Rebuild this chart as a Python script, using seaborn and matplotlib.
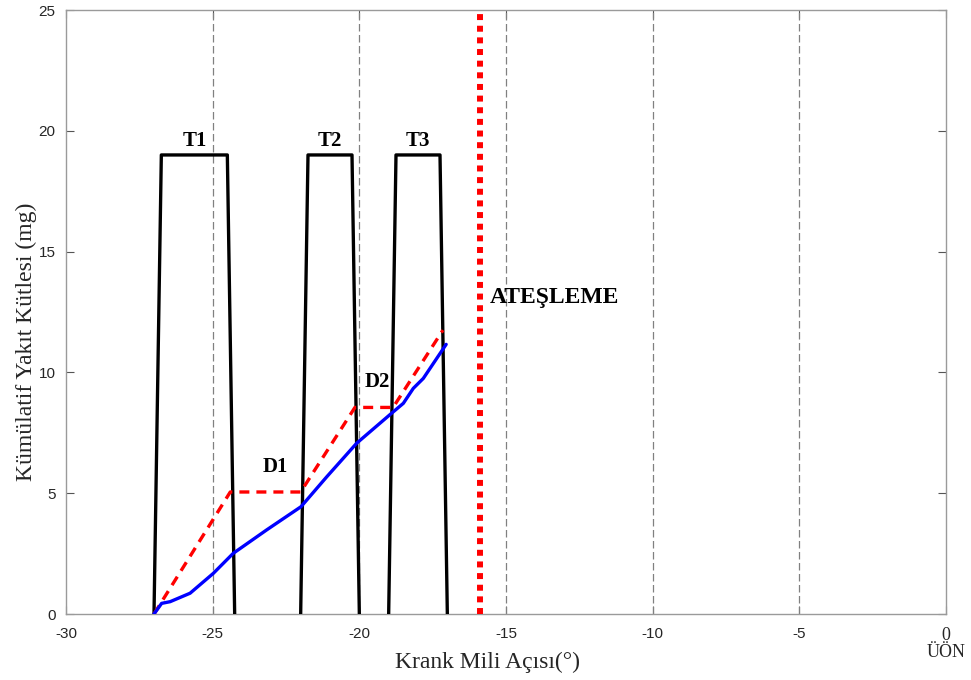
import numpy as np
import pandas as pd
import matplotlib
matplotlib.use("Agg")
import matplotlib.pyplot as plt
import seaborn as sns

# Injection pulse profiles (crank angle, pulse height)
t1_angle = [-27.0, -26.75, -24.5, -24.25]
t2_angle = [-22.0, -21.75, -20.25, -20.0]
t3_angle = [-19.0, -18.75, -17.25, -17.0]
pulse_level = [0, 19, 19, 0]
pulse_names = ["T1", "T2", "T3"]

# Cumulative fuel mass, ideal (dashed) profile
ideal_angle = [-27.0, -24.4, -22.0, -20.15, -18.85, -17.15]
ideal_mass = [0.0, 5.05, 5.05, 8.55, 8.55, 11.75]

# Cumulative fuel mass, actual injected
actual_angle = [-27.0, -26.74, -26.45, -25.77, -24.98, -24.30, -23.16, -21.99,
                -21.11, -20.09, -18.90, -18.50, -18.16, -17.82, -17.04]
actual_mass = [0.0, 0.44, 0.51, 0.86, 1.68, 2.51, 3.48, 4.44,
               5.68, 7.07, 8.31, 8.72, 9.34, 9.75, 11.16]

ignition_angle = -15.9
grid_angles = [-25, -20, -15, -10, -5]
x_ticks = [-30, -25, -20, -15, -10, -5, 0]
x_tick_labels = ["-30", "-25", "-20", "-15", "-10", "-5", "0\nÜÖN"]
y_ticks = [0, 5, 10, 15, 20, 25]

sns.set_theme(style="white")
plt.rcParams["font.family"] = ["Liberation Sans", "DejaVu Sans"]
serif = ["Liberation Serif", "DejaVu Serif"]

fig = plt.figure(figsize=(9.71, 6.8), dpi=100)
ax = fig.add_axes([66 / 971, 1 - 614 / 680, 880 / 971, 604 / 680])

for g in grid_angles:
    ax.axvline(g, color="#808080", lw=0.9, ls=(0, (6, 2.8)), zorder=1)

for angles in (t1_angle, t2_angle, t3_angle):
    df = pd.DataFrame({"angle": angles, "level": pulse_level})
    sns.lineplot(data=df, x="angle", y="level", sort=False, color="black",
                 lw=2.4, ax=ax, zorder=3)

df_ideal = pd.DataFrame({"angle": ideal_angle, "mass": ideal_mass})
sns.lineplot(data=df_ideal, x="angle", y="mass", sort=False, color="#ff0000",
             lw=2.4, ls=(0, (3, 2.1)), ax=ax, zorder=4)

df_actual = pd.DataFrame({"angle": actual_angle, "mass": actual_mass})
sns.lineplot(data=df_actual, x="angle", y="mass", sort=False, color="#0000ff",
             lw=2.4, ax=ax, zorder=5)

ax.axvline(ignition_angle, color="#ff0000", lw=4.3, ls=(0, (1, 0.95)), zorder=4)

serif_bold = dict(family=serif, weight="bold", fontsize=15, color="black")
for name, angles in zip(pulse_names, (t1_angle, t2_angle, t3_angle)):
    ax.text((angles[1] + angles[2]) / 2, 19.15, name, ha="center", va="bottom",
            **serif_bold)
ax.text(-22.85, 6.1, "D1", ha="center", va="center", **serif_bold)
ax.text(-19.4, 9.6, "D2", ha="center", va="center", **serif_bold)
ax.text(-15.55, 13.1, "ATEŞLEME", ha="left", va="center",
        **{**serif_bold, "fontsize": 17})

ax.set_xlim(-30, 0)
ax.set_ylim(0, 25)
ax.set_xticks(x_ticks)
ax.set_yticks(y_ticks)
ax.set_xticklabels(x_tick_labels)
ax.set_yticklabels([str(v) for v in y_ticks])

ax.tick_params(direction="in", length=6, width=0.8, color="#555555",
               labelcolor="#262626", labelsize=11, top=True, right=True,
               bottom=True, left=True)
ax.tick_params(axis="x", pad=9.5)
ax.tick_params(axis="y", pad=7.5)

# the TDC tick is labelled in serif, with its abbreviation on a second line
last = ax.get_xticklabels()[-1]
last.set_fontfamily(serif)
last.set_fontsize(13)
last.set_linespacing(0.95)

for s in ax.spines.values():
    s.set_visible(True)
    s.set_color("#9a9a9a")
    s.set_linewidth(1.0)

ax.set_xlabel("Krank Mili Açısı(°)", family=serif, fontsize=17, color="#262626")
ax.set_ylabel("Kümülatif Yakıt Kütlesi (mg)", family=serif, fontsize=17,
              color="#262626")
ax.xaxis.set_label_coords(0.4795, -0.062)
ax.yaxis.set_label_coords(-0.033, 0.45)

fig.savefig("out.png", dpi=100)
